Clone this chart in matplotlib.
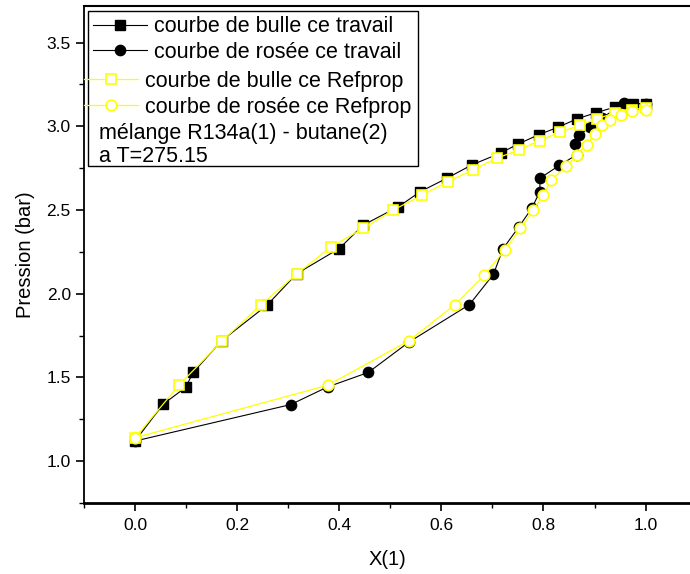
'''
Pression vs X(1) for the R134a / butane mixture: this work against Refprop.
'''
import matplotlib
matplotlib.use("Agg")
import matplotlib.pyplot as plt
from matplotlib.patches import Rectangle
from matplotlib.ticker import MultipleLocator

# bubble curve, this work (black squares)
bulle_x = [0.0, 0.055, 0.099, 0.114, 0.17, 0.258, 0.317, 0.40, 0.447, 0.516, 0.559,
           0.611, 0.660, 0.716, 0.751, 0.791, 0.829, 0.866, 0.902, 0.94, 0.976, 1.0]
bulle_y = [1.12, 1.34, 1.44, 1.53, 1.72, 1.93, 2.12, 2.27, 2.41, 2.52, 2.61,
           2.69, 2.77, 2.84, 2.895, 2.95, 2.995, 3.045, 3.08, 3.115, 3.135, 3.135]

# dew curve, this work (black circles)
rosee_x = [0.0, 0.305, 0.377, 0.457, 0.536, 0.655, 0.702, 0.721, 0.752, 0.777, 0.793,
           0.793, 0.831, 0.865, 0.862, 0.869, 0.891, 0.915, 0.957, 1.0]
rosee_y = [1.12, 1.338, 1.443, 1.53, 1.71, 1.935, 2.116, 2.27, 2.40, 2.51, 2.61,
           2.69, 2.766, 2.83, 2.895, 2.945, 2.995, 3.05, 3.138, 3.135]

# bubble curve, Refprop (yellow open squares)
bulle_ref_x = [0.0, 0.087, 0.17, 0.247, 0.317, 0.384, 0.447, 0.506, 0.563, 0.613,
               0.662, 0.709, 0.753, 0.793, 0.832, 0.871, 0.905, 0.94, 0.974, 1.0]
bulle_ref_y = [1.14, 1.457, 1.716, 1.935, 2.118, 2.28, 2.39, 2.50, 2.59, 2.67,
               2.74, 2.81, 2.86, 2.915, 2.965, 3.005, 3.045, 3.08, 3.10, 3.11]

# dew curve, Refprop (yellow open circles)
rosee_ref_x = [0.0, 0.377, 0.536, 0.627, 0.684, 0.724, 0.755, 0.78, 0.80, 0.815,
               0.845, 0.866, 0.885, 0.90, 0.914, 0.930, 0.951, 0.974, 1.0]
rosee_ref_y = [1.14, 1.453, 1.718, 1.935, 2.11, 2.26, 2.39, 2.50, 2.59, 2.68,
               2.76, 2.83, 2.89, 2.955, 3.005, 3.04, 3.07, 3.094, 3.10]

labels = ["courbe de bulle ce travail", "courbe de rosée ce travail",
          "courbe de bulle ce Refprop", "courbe de rosée ce Refprop"]
note = ["mélange R134a(1) - butane(2)", "a T=275.15"]

YEL = "#ffff00"


def main():
    plt.rcParams['font.family'] = ['Liberation Sans', 'DejaVu Sans']

    fig = plt.figure(figsize=(6.9, 5.74), dpi=100)
    ax = fig.add_axes([0.1217, 0.1237, 0.8783, 0.8663])

    # black series first, yellow drawn on top
    l1, = ax.plot(bulle_x, bulle_y, color="black", lw=0.8, marker="s", ms=6.8,
                  mfc="black", mec="black", zorder=2)
    l2, = ax.plot(rosee_x, rosee_y, color="black", lw=0.8, marker="o", ms=7.4,
                  mfc="black", mec="black", zorder=2)
    l3, = ax.plot(bulle_ref_x, bulle_ref_y, color=YEL, lw=0.9, marker="s", ms=6.8,
                  mfc="white", mec=YEL, mew=1.2, zorder=3)
    l4, = ax.plot(rosee_ref_x, rosee_ref_y, color=YEL, lw=0.9, marker="o", ms=7.6,
                  mfc="white", mec=YEL, mew=1.2, zorder=3)

    ax.set_xlim(-0.1, 1.087)
    ax.set_ylim(0.75, 3.72)
    ax.xaxis.set_major_locator(MultipleLocator(0.2))
    ax.xaxis.set_minor_locator(MultipleLocator(0.1))
    ax.yaxis.set_major_locator(MultipleLocator(0.5))
    ax.yaxis.set_minor_locator(MultipleLocator(0.25))
    ax.xaxis.set_major_formatter(plt.FormatStrFormatter("%.1f"))
    ax.yaxis.set_major_formatter(plt.FormatStrFormatter("%.1f"))

    ax.tick_params(which="major", direction="out", length=6, width=1.2, labelsize=12.5)
    ax.tick_params(which="minor", direction="out", length=3.5, width=1.0)
    ax.tick_params(axis="x", pad=5)

    ax.spines["right"].set_visible(False)
    ax.spines["bottom"].set_linewidth(2.0)
    ax.spines["left"].set_linewidth(1.3)
    ax.spines["top"].set_linewidth(1.5)

    ax.set_xlabel("X(1)", fontsize=14.5, labelpad=12)
    ax.set_ylabel("Pression (bar)", fontsize=14.5, labelpad=8)

    # legend frame with the two note lines inside
    ax.add_patch(Rectangle((0.0071, 0.678), 0.5436, 0.312, transform=ax.transAxes,
                           fill=False, ec="black", lw=1.0, zorder=5))

    leg_kw = dict(loc="upper left", frameon=False, fontsize=15.5, borderpad=0,
                  borderaxespad=0, labelspacing=0.22, handlelength=2.5,
                  handletextpad=0.33)
    leg1 = ax.legend([l1, l2], labels[:2], bbox_to_anchor=(0.0144, 0.979), **leg_kw)
    ax.add_artist(leg1)
    ax.legend([l3, l4], labels[2:], bbox_to_anchor=(0.0, 0.869), **leg_kw)

    ax.text(0.0253, 0.744, note[0], transform=ax.transAxes, fontsize=15.5, va="center")
    ax.text(0.0253, 0.696, note[1], transform=ax.transAxes, fontsize=15.5, va="center")

    fig.savefig("out.png", dpi=100)


if __name__ == '__main__':
    main()
